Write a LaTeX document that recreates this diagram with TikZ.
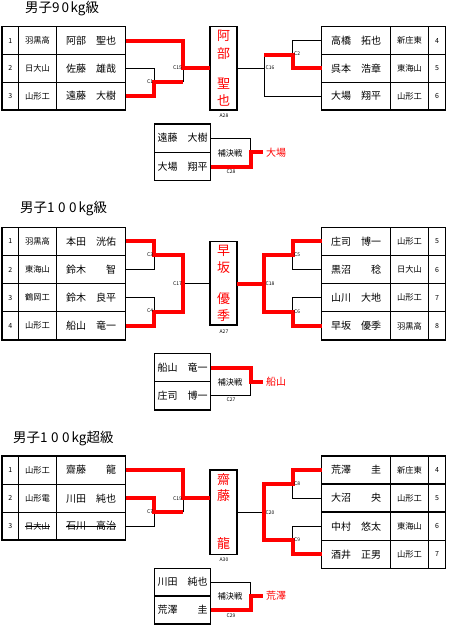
\documentclass[tikz,border=0pt]{standalone}
\usepackage{fontspec}
\setmainfont{Noto Sans CJK JP}
\begin{document}
\begin{tikzpicture}[x=1pt,y=-1pt,
 tbl/.style={line width=1.5pt},
 br/.style={line width=1pt},
 win/.style={line width=4pt, red, line join=miter},
 num/.style={font=\fontsize{7}{8}\selectfont, inner sep=0},
 sch/.style={font=\fontsize{8.3}{9}\selectfont, inner sep=0},
 pn/.style={font=\fontsize{10}{11}\selectfont, inner sep=0},
 ttl/.style={font=\fontsize{13.5}{15}\selectfont, anchor=west, inner sep=0},
 wch/.style={font=\fontsize{13}{14}\selectfont, text=red, inner sep=0},
 cl/.style={font=\fontsize{5}{6}\selectfont, inner sep=0},
 rn/.style={font=\fontsize{10}{11}\selectfont, text=red, anchor=west, inner sep=0},
 hk/.style={font=\fontsize{8.3}{9}\selectfont, inner sep=0}]
\useasboundingbox[fill=white] (0,0) rectangle (450,635);

% ================= Section 1: 90kg =================
\node[ttl] (t1) at (25,9) {男子9\kern2pt 0\kern1.5pt kg級};
% left table
\draw[tbl] (2,26.7) rectangle (125.7,110);
\draw[tbl] (18.3,26.7)--(18.3,110) (56.7,26.7)--(56.7,110) (2,54.5)--(125.7,54.5) (2,82.3)--(125.7,82.3);
\node[num] (a1n) at (10.2,40.6) {1}; \node[sch] (a1s) at (37.5,40.6) {羽黒高}; \node[pn] (a1p) at (91.2,40.6) {阿部　聖也};
\node[num] (a2n) at (10.2,68.4) {2}; \node[sch] (a2s) at (37.5,68.4) {日大山}; \node[pn] (a2p) at (91.2,68.4) {佐藤　雄哉};
\node[num] (a3n) at (10.2,96.2) {3}; \node[sch] (a3s) at (37.5,96.2) {山形工}; \node[pn] (a3p) at (91.2,96.2) {遠藤　大樹};
% right table
\draw[tbl] (321.7,26.7) rectangle (445.7,110);
\draw[tbl] (390.7,26.7)--(390.7,110) (428.3,26.7)--(428.3,110) (321.7,54.5)--(445.7,54.5) (321.7,82.3)--(445.7,82.3);
\node[pn] (b1p) at (356.2,40.6) {高橋　拓也}; \node[sch] (b1s) at (409.5,40.6) {新庄東}; \node[num] (b1n) at (437,40.6) {4};
\node[pn] (b2p) at (356.2,68.4) {呉本　浩章}; \node[sch] (b2s) at (409.5,68.4) {東海山}; \node[num] (b2n) at (437,68.4) {5};
\node[pn] (b3p) at (356.2,96.2) {大場　翔平}; \node[sch] (b3s) at (409.5,96.2) {山形工}; \node[num] (b3n) at (437,96.2) {6};
% winner box
\draw[tbl] (210,26.7) rectangle (237,110);
\node[wch] (w1a) at (223.5,35.8) {阿}; \node[wch] (w1b) at (223.5,53.3) {部};
\node[wch] (w1c) at (223.5,83.8) {聖}; \node[wch] (w1d) at (223.5,100.5) {也};
\node[cl] (A28) at (224,116) {A28};
% brackets
\draw[br] (125.7,68.4)--(154.3,68.4)--(154.3,82.3);
\draw[br] (183,68.4)--(183,82.3);
\draw[br] (237,68.4)--(264,68.4);
\draw[br] (264,54.5)--(264,96.2)--(321.7,96.2);
\draw[br] (292.7,54.5)--(292.7,40.6)--(321.7,40.6);
\draw[win] (125.7,40.6)--(183,40.6)--(183,68.4)--(210,68.4);
\draw[win] (125.7,96.2)--(154.3,96.2)--(154.3,82.3)--(183,82.3);
\draw[win] (264,54.5)--(292.7,54.5)--(292.7,68.4)--(321.7,68.4);
\node[cl,anchor=east] (C1) at (153.3,81.7) {C1};
\node[cl,anchor=east] (C15) at (182,68) {C15};
\node[cl,anchor=west] (C2) at (294,53.3) {C2};
\node[cl,anchor=west] (C16) at (265.5,68) {C16};
% consolation
\draw[tbl] (154.3,124) rectangle (210.7,180.7);
\draw[tbl] (154.3,152.3)--(210.7,152.3);
\node[pn] (k1a) at (182.5,138.2) {遠藤　大樹};
\node[pn] (k1b) at (182.5,166.5) {大場　翔平};
\draw[br] (210.7,138.2)--(250.7,138.2)--(250.7,152.3);
\draw[win] (210.7,166.5)--(250.7,166.5)--(250.7,152.3)--(263.3,152.3);
\node[hk] (h1) at (230,153) {補決戦};
\node[rn] (r1) at (266,152.3) {大場};
\node[cl] (C28) at (231,171.7) {C28};

% ================= Section 2: 100kg =================
\node[ttl] (t2) at (20,209) {男子1\kern3.5pt 0\kern3.5pt 0\kern2pt kg級};
\draw[tbl] (2,227.3) rectangle (125.7,340);
\draw[tbl] (18.3,227.3)--(18.3,340) (56.7,227.3)--(56.7,340) (2,255.45)--(125.7,255.45) (2,283.5)--(125.7,283.5) (2,311.7)--(125.7,311.7);
\node[num] (c1n) at (10.2,241.4) {1}; \node[sch] (c1s) at (37.5,241.4) {羽黒高}; \node[pn] (c1p) at (91.2,241.4) {本田　洸佑};
\node[num] (c2n) at (10.2,269.5) {2}; \node[sch] (c2s) at (37.5,269.5) {東海山}; \node[pn] (c2p) at (91.2,269.5) {鈴木　　智};
\node[num] (c3n) at (10.2,297.6) {3}; \node[sch] (c3s) at (37.5,297.6) {鶴岡工}; \node[pn] (c3p) at (91.2,297.6) {鈴木　良平};
\node[num] (c4n) at (10.2,325.85) {4}; \node[sch] (c4s) at (37.5,325.85) {山形工}; \node[pn] (c4p) at (91.2,325.85) {船山　竜一};
\draw[tbl] (321.7,227.3) rectangle (445.7,340);
\draw[tbl] (390.7,227.3)--(390.7,340) (428.3,227.3)--(428.3,340) (321.7,255.45)--(445.7,255.45) (321.7,283.5)--(445.7,283.5) (321.7,311.7)--(445.7,311.7);
\node[pn] (d1p) at (356.2,241.4) {庄司　博一}; \node[sch] (d1s) at (409.5,241.4) {山形工}; \node[num] (d1n) at (437,241.4) {5};
\node[pn] (d2p) at (356.2,269.5) {黒沼　　稔}; \node[sch] (d2s) at (409.5,269.5) {日大山}; \node[num] (d2n) at (437,269.5) {6};
\node[pn] (d3p) at (356.2,297.6) {山川　大地}; \node[sch] (d3s) at (409.5,297.6) {山形工}; \node[num] (d3n) at (437,297.6) {7};
\node[pn] (d4p) at (356.2,325.85) {早坂　優季}; \node[sch] (d4s) at (409.5,325.85) {羽黒高}; \node[num] (d4n) at (437,325.85) {8};
\draw[tbl] (210,241.7) rectangle (237,325);
\node[wch] (w2a) at (223.5,250.8) {早}; \node[wch] (w2b) at (223.5,267.5) {坂};
\node[wch] (w2c) at (223.5,299) {優}; \node[wch] (w2d) at (223.5,316) {季};
\node[cl] (A27) at (224,331.7) {A27};
\draw[br] (125.7,269.5)--(154.3,269.5)--(154.3,255.45);
\draw[br] (125.7,297.6)--(154.3,297.6)--(154.3,311.7);
\draw[br] (183,283.5)--(210,283.5);
\draw[br] (321.7,269.5)--(292.7,269.5)--(292.7,255.45);
\draw[br] (321.7,297.6)--(292.7,297.6)--(292.7,311.7);
\draw[win] (125.7,241.4)--(154.3,241.4)--(154.3,255.45)--(183,255.45)--(183,311.7)--(154.3,311.7)--(154.3,325.85)--(125.7,325.85);
\draw[win] (237,283.5)--(264,283.5);
\draw[win] (321.7,241.4)--(292.7,241.4)--(292.7,255.45)--(264,255.45)--(264,311.7)--(292.7,311.7)--(292.7,325.85)--(321.7,325.85);
\node[cl,anchor=east] (C3) at (153.3,255) {C3};
\node[cl,anchor=east] (C4) at (153.3,311) {C4};
\node[cl,anchor=east] (C17) at (182,283.3) {C17};
\node[cl,anchor=west] (C5) at (294,255) {C5};
\node[cl,anchor=west] (C6) at (294,311.3) {C6};
\node[cl,anchor=west] (C18) at (265.5,283.3) {C18};
\draw[tbl] (154.3,353.3) rectangle (210.7,410);
\draw[tbl] (154.3,381.7)--(210.7,381.7);
\node[pn] (k2a) at (182.5,367.5) {船山　竜一};
\node[pn] (k2b) at (182.5,395.85) {庄司　博一};
\draw[br] (210.7,395.85)--(250.7,395.85)--(250.7,381.7);
\draw[win] (210.7,367.5)--(250.7,367.5)--(250.7,381.7)--(263.3,381.7);
\node[hk] (h2) at (230,382.3) {補決戦};
\node[rn] (r2) at (266,381.7) {船山};
\node[cl] (C27) at (231,400) {C27};

% ================= Section 3: +100kg =================
\node[ttl] (t3) at (13,438.5) {男子1\kern3.5pt 0\kern3.5pt 0\kern2pt kg超級};
\draw[tbl] (2,456) rectangle (125.7,540);
\draw[tbl] (18.3,456)--(18.3,540) (56.7,456)--(56.7,540) (2,484.3)--(125.7,484.3) (2,512.3)--(125.7,512.3);
\node[num] (e1n) at (10.2,470.15) {1}; \node[sch] (e1s) at (37.5,470.15) {山形工}; \node[pn] (e1p) at (91.2,470.15) {齋藤　　龍};
\node[num] (e2n) at (10.2,498.3) {2}; \node[sch] (e2s) at (37.5,498.3) {山形電}; \node[pn] (e2p) at (91.2,498.3) {川田　純也};
\node[num] (e3n) at (10.2,526.15) {3}; \node[sch] (e3s) at (37.5,526.15) {日大山}; \node[pn] (e3p) at (91.2,526.15) {石川　高治};
\draw[br] (e3s.west)--(e3s.east);
\draw[br] (e3p.west)--(e3p.east);
\draw[tbl] (321.7,456) rectangle (445.7,568.4);
\draw[tbl] (390.7,456)--(390.7,568.4) (428.3,456)--(428.3,568.4) (321.7,484.1)--(445.7,484.1) (321.7,512.2)--(445.7,512.2) (321.7,540.3)--(445.7,540.3);
\node[pn] (f1p) at (356.2,470.05) {荒澤　　圭}; \node[sch] (f1s) at (409.5,470.05) {新庄東}; \node[num] (f1n) at (437,470.05) {4};
\node[pn] (f2p) at (356.2,498.15) {大沼　　央}; \node[sch] (f2s) at (409.5,498.15) {山形工}; \node[num] (f2n) at (437,498.15) {5};
\node[pn] (f3p) at (356.2,526.25) {中村　悠太}; \node[sch] (f3s) at (409.5,526.25) {東海山}; \node[num] (f3n) at (437,526.25) {6};
\node[pn] (f4p) at (356.2,554.35) {酒井　正男}; \node[sch] (f4s) at (409.5,554.35) {山形工}; \node[num] (f4n) at (437,554.35) {7};
\draw[tbl] (210,470) rectangle (237,554.3);
\node[wch] (w3a) at (223.5,480) {齋}; \node[wch] (w3b) at (223.5,496) {藤};
\node[wch] (w3c) at (223.5,543.3) {龍};
\node[cl] (A30) at (224,559.3) {A30};
\draw[br] (125.7,526.15)--(154.3,526.15)--(154.3,512.3);
\draw[br] (183,512.3)--(183,498.3);
\draw[br] (237,512.2)--(264,512.2);
\draw[br] (321.7,498.15)--(292.7,498.15)--(292.7,484.1);
\draw[br] (321.7,526.25)--(292.7,526.25)--(292.7,540.3);
\draw[win] (125.7,470.15)--(183,470.15)--(183,498.3)--(210,498.3);
\draw[win] (125.7,498.3)--(154.3,498.3)--(154.3,512.3)--(183,512.3);
\draw[win] (321.7,470.05)--(292.7,470.05)--(292.7,484.1)--(264,484.1)--(264,540.3)--(292.7,540.3)--(292.7,554.35)--(321.7,554.35);
\node[cl,anchor=east] (C7) at (153.3,511.7) {C7};
\node[cl,anchor=east] (C19) at (182,498.3) {C19};
\node[cl,anchor=west] (C8) at (294,483.5) {C8};
\node[cl,anchor=west] (C9) at (294,540) {C9};
\node[cl,anchor=west] (C20) at (265.5,512.3) {C20};
\draw[tbl] (154.3,568.3) rectangle (210.7,624);
\draw[tbl] (154.3,596)--(210.7,596);
\node[pn] (k3a) at (182.5,582.15) {川田　純也};
\node[pn] (k3b) at (182.5,610) {荒澤　　圭};
\draw[br] (210.7,582.15)--(250.7,582.15)--(250.7,596);
\draw[win] (210.7,610)--(250.7,610)--(250.7,596)--(263.3,596);
\node[hk] (h3) at (230,596.6) {補決戦};
\node[rn] (r3) at (266,596) {荒澤};
\node[cl] (C29) at (231,615.7) {C29};
\end{tikzpicture}
\end{document}
